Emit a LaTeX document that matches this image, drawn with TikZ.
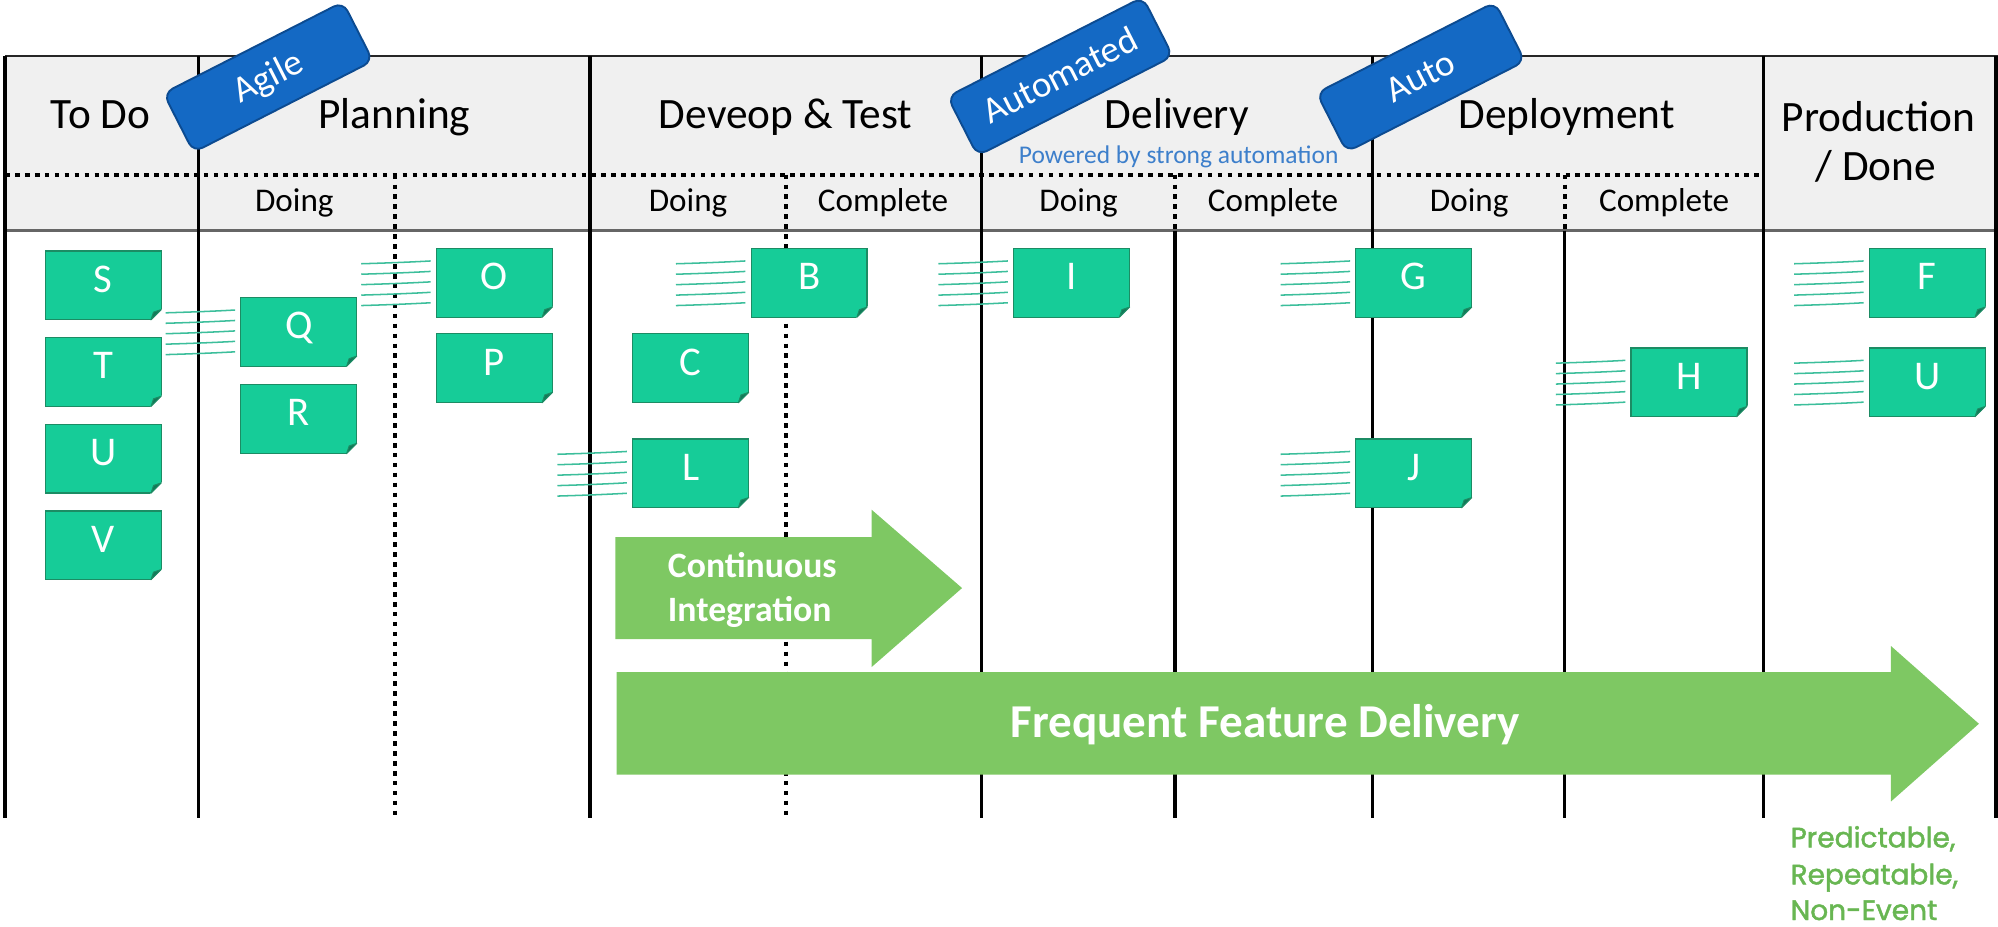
\documentclass[tikz,border=0pt]{standalone}
\usepackage{fontspec}
\setmainfont{Carlito}
\newfontfamily\predfont{Poppins}[FakeBold=1.6]
\usetikzlibrary{calc}
\definecolor{hdrgray}{RGB}{240,240,240}
\definecolor{notegreen}{RGB}{22,204,152}
\definecolor{noteborder}{RGB}{28,140,100}
\definecolor{folddark}{RGB}{18,120,88}
\definecolor{speedcol}{RGB}{60,190,155}
\definecolor{tagblue}{RGB}{20,105,196}
\definecolor{tagborder}{RGB}{12,75,145}
\definecolor{arrowgreen}{RGB}{126,200,99}
\definecolor{predgreen}{RGB}{104,182,82}
\definecolor{poweredblue}{RGB}{61,127,203}
\newcommand\speedlns[1]{%
  \foreach \k in {0,...,4}{%
    \draw[speedln] ([xshift=-59pt,yshift={-12pt-8.2pt*\k}]#1.north west)
      .. controls +(20pt,0.6pt) and +(-18pt,-1pt) ..
      ([xshift=-4.5pt,yshift={-9.8pt-8.2pt*\k}]#1.north west);
  }}
\newcommand\stickynote[4]{%
  \node[note] (#1) at (#2,#3) {#4};
  \fill[white] ([shift={(1.5pt,-1.5pt)}]#1.south east) -- ([shift={(1.5pt,9.5pt)}]#1.south east) -- ([shift={(-9.5pt,-1.5pt)}]#1.south east) -- cycle;
  \filldraw[fill=folddark, draw=noteborder, line width=0.8pt, line join=round] ([yshift=8pt]#1.south east) -- ([xshift=-8pt]#1.south east) -- ([shift={(-6pt,6pt)}]#1.south east) -- cycle;
}
\begin{document}
\begin{tikzpicture}[x=1pt,y=-1pt,
  vline/.style={line width=2.6pt, black},
  dotln/.style={line width=3.2pt, black, dash pattern=on 3.6pt off 4.2pt},
  speedln/.style={line width=1.2pt, speedcol},
  note/.style={rectangle, minimum width=91pt, minimum height=54pt, inner sep=0pt, outer sep=0pt, fill=notegreen, draw=noteborder, line width=1pt, text=white, font=\fontsize{32}{32}\selectfont, text height=24pt, text depth=13.4pt},
  tag/.style={rectangle, rounded corners=8pt, rotate=27, fill=tagblue, draw=tagborder, line width=1.5pt, text=white, minimum height=52pt, inner sep=0pt, font=\fontsize{29}{29}\selectfont, text height=20pt, text depth=2.3pt},
  hdr/.style={anchor=base, inner sep=0pt, font=\fontsize{34}{40}\selectfont},
  sub/.style={anchor=base, inner sep=0pt, font=\fontsize{26}{30}\selectfont},
  arrowtext/.style={text=white, inner sep=0pt, font=\bfseries\fontsize{28}{35}\selectfont},
  pred/.style={anchor=base west, inner sep=0pt, text=predgreen, font=\predfont\fontsize{22}{26}\selectfont}]
\useasboundingbox (0,0) rectangle (1568,727);
% header band
\fill[hdrgray] (4,44) rectangle (1566,181);
\draw[line width=1.5pt, black!85] (4,44) -- (1568,44);
\draw[line width=2pt, black!60] (4,181) -- (1568,181);
\draw[dotln] (4,137) -- (1384,137);
% column lines
\foreach \x in {4,156,463,770,1077,1384,1566.5} \draw[vline] (\x,44) -- (\x,642);
\foreach \x in {310,617} \draw[dotln] (\x,137) -- (\x,642);
\foreach \x in {922,1228} {\draw[dotln] (\x,137) -- (\x,181); \draw[vline] (\x,181) -- (\x,642);}
% header texts
\node[hdr] (todo) at (79,101) {To Do};
\node[hdr] (planning) at (309.5,101) {Planning};
\node[hdr] (devtest) at (616.5,101) {Deveop \& Test};
\node[hdr] (delivery) at (923.5,101) {Delivery};
\node[hdr] (deploy) at (1229.5,101) {Deployment};
\node[hdr] (prod1) at (1474,103) {Production};
\node[hdr] (prod2) at (1472,142) {/ Done};
\node[anchor=base, inner sep=0pt, text=poweredblue, font=\fontsize{20}{24}\selectfont] (powered) at (925,128) {Powered by strong automation};
\node[sub] (s1) at (231,166) {Doing};
\node[sub] (s2) at (540,166) {Doing};
\node[sub] (s3) at (693,166) {Complete};
\node[sub] (s4) at (846.5,166) {Doing};
\node[sub] (s5) at (999,166) {Complete};
\node[sub] (s6) at (1153,166) {Doing};
\node[sub] (s7) at (1306,166) {Complete};
% sticky notes
\stickynote{S}{81}{224}{S}
\stickynote{T}{81}{292}{T}
\stickynote{U}{81}{360}{U}
\stickynote{V}{81}{428}{V}
\stickynote{Q}{234.5}{260.5}{Q}
\stickynote{R}{234.5}{329}{R}
\stickynote{O}{388}{222}{O}
\stickynote{P}{388}{289}{P}
\stickynote{B}{635}{222}{B}
\stickynote{C}{542}{289}{C}
\stickynote{L}{542}{371.5}{L}
\stickynote{I}{841}{222}{I}
\stickynote{G}{1109.5}{222}{G}
\stickynote{J}{1109.5}{371.5}{J}
\stickynote{H}{1325.5}{300}{H}
\stickynote{F}{1512.5}{222}{F}
\stickynote{U2}{1512.5}{300}{U}
% motion lines
\speedlns{Q}\speedlns{O}\speedlns{B}\speedlns{L}\speedlns{I}
\speedlns{G}\speedlns{J}\speedlns{H}\speedlns{F}\speedlns{U2}
% arrows
\fill[arrowgreen] (483,421.5) -- (684,421.5) -- (684,400) -- (755,461.5) -- (684,523.5) -- (684,501.5) -- (483,501.5) -- cycle;
\node[arrowtext, anchor=west, align=left] (ci) at (524,463) {Continuous\\Integration};
\fill[arrowgreen] (484,527.5) -- (1484,527.5) -- (1484,507) -- (1553,568) -- (1484,629) -- (1484,608) -- (484,608) -- cycle;
\node[arrowtext, anchor=base, font=\bfseries\fontsize{37}{40}\selectfont] (ffd) at (993,579) {Frequent Feature Delivery};
% outcome
\node[pred] (pred1) at (1405,665) {Predictable,};
\node[pred] (pred2) at (1405,694) {Repeatable,};
\node[pred] (pred3) at (1405,722) {Non-Event};
% tags
\node[tag, minimum width=158pt] (agile) at (210.5,60.5) {Agile};
\node[tag, minimum width=172pt] (automated) at (832,60) {Automated};
\node[tag, minimum width=157pt] (auto) at (1115,60.5) {Auto};
\end{tikzpicture}
\end{document}
